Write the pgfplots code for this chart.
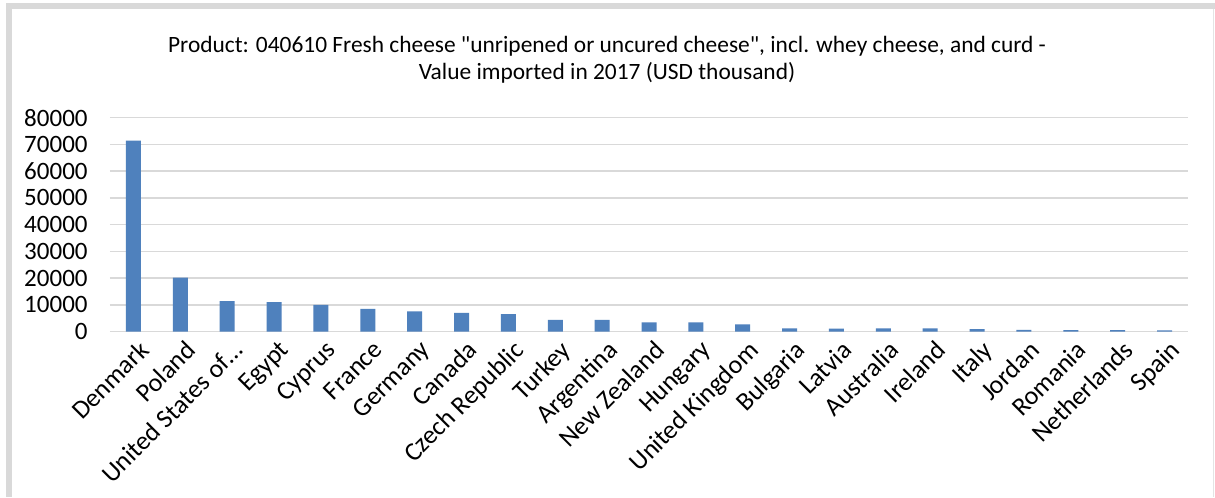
\documentclass[border=0pt]{standalone}
\usepackage{pgfplots}
\pgfplotsset{compat=1.18}
\usepackage{fontspec}
\setmainfont{Carlito}
\definecolor{barblue}{HTML}{4F81BD}
\definecolor{gridgray}{HTML}{D9D9D9}
\begin{document}
\begin{tikzpicture}
% canvas and frame (1px = 0.5pt)
\fill[white] (-55pt,-82.65pt) rectangle (552.5pt,165.85pt);
\fill[gridgray] (-52pt,164.35pt) rectangle (552.5pt,161.35pt);
\fill[gridgray] (-52pt,164.35pt) rectangle (-49pt,-82.65pt);
\draw[gridgray!70, line width=0.5pt] (551.8pt,161.35pt) -- (551.8pt,-82.65pt);
\begin{axis}[
  at={(0pt,0pt)}, anchor=south west,
  scale only axis,
  width=539pt, height=107pt,
  xmin=-0.5, xmax=22.5,
  ymin=0, ymax=80000,
  ytick={0,10000,...,80000},
  scaled y ticks=false,
  xtick={0,...,22},
  xticklabels={Denmark,Poland,United States of\ldots,Egypt,Cyprus,France,Germany,Canada,Czech Republic,Turkey,Argentina,New Zealand,Hungary,United Kingdom,Bulgaria,Latvia,Australia,Ireland,Italy,Jordan,Romania,Netherlands,Spain},
  xticklabel style={rotate=45, anchor=north east, font=\fontsize{13}{15}\selectfont, inner sep=1pt, xshift=0pt, yshift=-3pt},
  yticklabel style={font=\fontsize{12.5}{14}\selectfont, anchor=east, inner sep=0pt, xshift=-11pt},
  /pgf/number format/1000 sep={},
  /pgf/number format/assume math mode=true,
  axis line style={draw=none},
  major tick length=0pt,
  ymajorgrids,
  grid style={gridgray, line width=0.75pt},
  ybar, bar width=7.5pt,
  clip=false,
]
\addplot[fill=barblue, draw=none] coordinates {
(0,71400) (1,20200) (2,11400) (3,11100) (4,10000) (5,8500) (6,7600) (7,7000) (8,6600) (9,4400) (10,4400) (11,3500) (12,3500) (13,2750) (14,1250) (15,1150) (16,1200) (17,1200) (18,1000) (19,650) (20,600) (21,600) (22,500)
};
\end{axis}
\node[font=\fontsize{11.7}{13.5}\selectfont, align=center] at (248.5pt,136pt) {Product: 040610 Fresh cheese \textquotedbl unripened or uncured cheese\textquotedbl, incl. whey cheese, and curd -\\Value imported in 2017 (USD thousand)};
\end{tikzpicture}
\end{document}
